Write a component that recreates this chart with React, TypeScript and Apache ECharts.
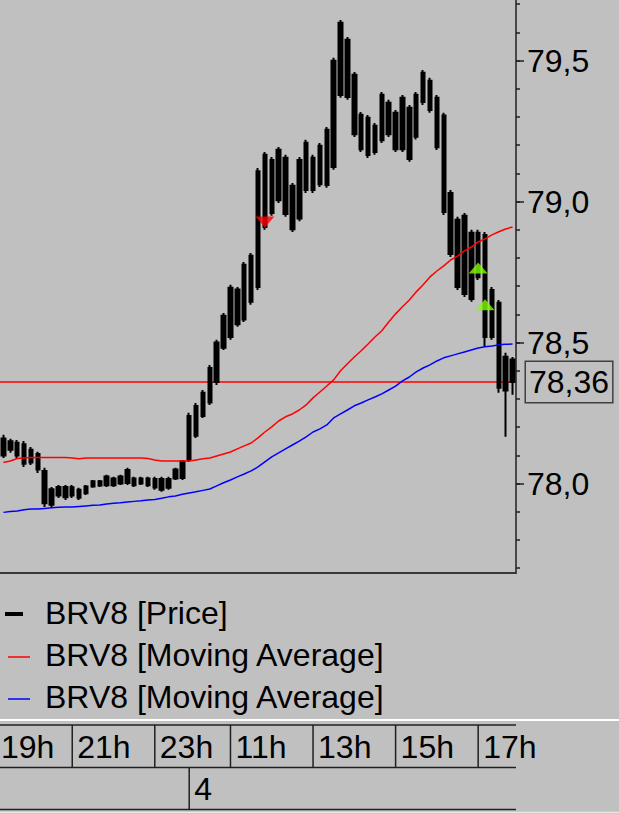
import React, { useEffect, useRef } from "react";
import * as echarts from "echarts";

const FONT = "'Liberation Sans', Arial, sans-serif";

// 10-minute bars, day 3 evening then day 4
const times = [
  "19:20", "19:30", "19:40", "19:50",
  "20:00", "20:10", "20:20", "20:30", "20:40", "20:50",
  "21:00", "21:10", "21:20", "21:30", "21:40", "21:50",
  "22:00", "22:10", "22:20", "22:30", "22:40", "22:50",
  "23:00", "23:10", "23:20", "23:30", "23:40",
  "10:00", "10:10", "10:20", "10:30", "10:40", "10:50",
  "11:00", "11:10", "11:20", "11:30", "11:40", "11:50",
  "12:00", "12:10", "12:20", "12:30", "12:40", "12:50",
  "13:00", "13:10", "13:20", "13:30", "13:40", "13:50",
  "14:00", "14:10", "14:20", "14:30", "14:40", "14:50",
  "15:00", "15:10", "15:20", "15:30", "15:40", "15:50",
  "16:00", "16:10", "16:20", "16:30", "16:40", "16:50",
  "17:00", "17:10", "17:20", "17:30", "17:40", "17:50",
];

const opens = [
  78.1, 78.15, 78.1, 78.14, 78.075, 78.105, 78.045, 77.98, 77.958, 77.988,
  77.958, 77.978, 77.966, 77.99, 78.008, 77.994, 78.018, 78.0, 78.002, 78.018,
  78.0, 78.018, 77.986, 78.016, 77.985, 78.018, 78.02, 78.085, 78.17, 78.24,
  78.288, 78.36, 78.482, 78.52, 78.688, 78.582, 78.808, 78.697, 79.166, 78.96,
  79.184, 78.956, 79.056, 78.94, 79.209, 79.041, 79.198, 79.059, 79.123, 79.378,
  79.574, 79.45, 79.308, 79.165, 79.269, 79.218, 79.351, 79.315, 79.186, 79.333,
  79.23, 79.353, 79.429, 79.368, 79.305, 79.031, 78.936, 78.672, 78.89, 78.732,
  78.882, 78.52, 78.641, 78.33, 78.44,
];
const closes = [
  78.16, 78.12, 78.145, 78.07, 78.12, 78.05, 77.93, 77.925, 77.988, 77.952,
  77.987, 77.95, 77.99, 78.008, 77.993, 78.025, 77.994, 78.025, 78.048, 77.994,
  78.018, 77.994, 78.016, 77.978, 78.016, 78.05, 78.078, 78.24, 78.275, 78.322,
  78.41, 78.5, 78.595, 78.695, 78.565, 78.776, 78.645, 79.108, 78.91, 79.148,
  79.005, 79.156, 78.902, 79.148, 79.041, 79.156, 79.062, 79.255, 79.5, 79.634,
  79.371, 79.239, 79.186, 79.297, 79.176, 79.379, 79.239, 79.186, 79.368, 79.151,
  79.379, 79.457, 79.325, 79.193, 78.963, 78.814, 78.697, 78.95, 78.655, 78.89,
  78.52, 78.687, 78.34, 78.45, 78.36,
];
const lows = [
  78.091, 78.109, 78.091, 78.059, 78.066, 78.038, 77.917, 77.917, 77.949, 77.942,
  77.949, 77.942, 77.96, 77.985, 77.988, 77.988, 77.988, 77.995, 77.995, 77.988,
  77.995, 77.988, 77.978, 77.971, 77.978, 78.013, 78.013, 78.077, 78.162, 78.233,
  78.279, 78.35, 78.474, 78.51, 78.556, 78.573, 78.634, 78.687, 78.9, 78.95,
  78.995, 78.946, 78.892, 78.93, 79.031, 79.031, 79.052, 79.049, 79.113, 79.368,
  79.361, 79.229, 79.176, 79.155, 79.166, 79.208, 79.229, 79.176, 79.176, 79.141,
  79.22, 79.343, 79.315, 79.183, 78.953, 78.804, 78.687, 78.662, 78.645, 78.722,
  78.485, 78.51, 78.322, 78.166, 78.315,
];
const highs = [
  78.173, 78.159, 78.155, 78.151, 78.13, 78.113, 78.056, 77.988, 77.995, 77.995,
  77.995, 77.985, 77.995, 78.013, 78.013, 78.031, 78.024, 78.031, 78.056, 78.024,
  78.024, 78.024, 78.024, 78.024, 78.024, 78.056, 78.084, 78.251, 78.286, 78.332,
  78.421, 78.51, 78.605, 78.705, 78.697, 78.786, 78.818, 79.119, 79.176, 79.158,
  79.194, 79.166, 79.066, 79.158, 79.219, 79.166, 79.208, 79.265, 79.51, 79.644,
  79.584, 79.46, 79.318, 79.307, 79.279, 79.389, 79.361, 79.325, 79.378, 79.343,
  79.389, 79.467, 79.439, 79.378, 79.315, 79.041, 78.946, 78.96, 78.9, 78.9,
  78.892, 78.697, 78.651, 78.464, 78.449,
];

const maFast = [
  78.075, 78.08, 78.089, 78.091, 78.093, 78.093, 78.093, 78.093, 78.093, 78.093,
  78.091, 78.088, 78.091, 78.091, 78.091, 78.091, 78.091, 78.091, 78.091, 78.091,
  78.091, 78.089, 78.084, 78.08, 78.08, 78.08, 78.08, 78.08, 78.084, 78.088,
  78.091, 78.098, 78.105, 78.112, 78.123, 78.134, 78.144, 78.162, 78.183, 78.201,
  78.222, 78.237, 78.247, 78.261, 78.279, 78.304, 78.325, 78.346, 78.368, 78.4,
  78.425, 78.449, 78.471, 78.495, 78.52, 78.542, 78.573, 78.602, 78.627, 78.651,
  78.68, 78.705, 78.733, 78.754, 78.772, 78.793, 78.807, 78.825, 78.839, 78.857,
  78.868, 78.882, 78.893, 78.903, 78.91,
];
const maSlow = [
  77.898, 77.901, 77.903, 77.907, 77.91, 77.91, 77.912, 77.914, 77.916, 77.917,
  77.917, 77.919, 77.921, 77.923, 77.924, 77.928, 77.93, 77.932, 77.935, 77.937,
  77.939, 77.942, 77.944, 77.948, 77.953, 77.956, 77.962, 77.967, 77.971, 77.976,
  77.981, 77.992, 78.003, 78.013, 78.024, 78.034, 78.045, 78.059, 78.077, 78.095,
  78.109, 78.123, 78.137, 78.151, 78.166, 78.183, 78.194, 78.208, 78.233, 78.247,
  78.261, 78.276, 78.286, 78.297, 78.307, 78.318, 78.332, 78.346, 78.364, 78.378,
  78.396, 78.41, 78.421, 78.435, 78.446, 78.453, 78.46, 78.467, 78.474, 78.481,
  78.485, 78.488, 78.492, 78.494, 78.495,
];

const sellSignals = [[38, 78.928]];
const buySignals = [[69, 78.765], [70, 78.634]];

const majorTicks = [78.0, 78.5, 79.0, 79.5];
const minorTicks = [
  77.7, 77.8, 77.9, 78.0, 78.1, 78.2, 78.3, 78.4, 78.5, 78.6, 78.7,
  78.8, 78.9, 79.0, 79.1, 79.2, 79.3, 79.4, 79.5, 79.6, 79.7,
];
const yMin = 77.683;
const yMax = 79.715;

const legendLabels = ["BRV8 [Price]", "BRV8 [Moving Average]", "BRV8 [Moving Average]"];
const legendColors = ["#000000", "#ff0000", "#0000ff"];

const leadingHourLabel = "19h";
const leadingHourIndex = -2;
const dayLabels = ["4"];

const fmt = (v: number, d: number) => v.toFixed(d).replace(".", ",");

export default function App() {
  const ref = useRef<HTMLDivElement>(null);

  useEffect(() => {
    if (!ref.current) return;
    const chart = echarts.init(ref.current, null, { renderer: "svg" });
    const candles = opens.map((o, i) => [o, closes[i], lows[i], highs[i]]);
    const lastClose = closes[closes.length - 1];
    const axisColor = "#202020";

    chart.setOption({
      animation: false,
      backgroundColor: "#c0c0c0",
      grid: { left: 0, top: 0, width: 516, height: 573, containLabel: false },
      xAxis: {
        type: "category",
        data: times,
        boundaryGap: true,
        axisLine: { show: true, lineStyle: { color: "#383838", width: 2 } },
        axisTick: { show: false },
        axisLabel: { show: false },
        splitLine: { show: false },
      },
      yAxis: [
        {
          type: "value",
          position: "right",
          min: yMin,
          max: yMax,
          axisLine: { show: true, lineStyle: { color: axisColor, width: 1.5 } },
          axisTick: {
            show: true,
            length: 8,
            customValues: majorTicks,
            lineStyle: { color: axisColor, width: 1.5 },
          },
          axisLabel: {
            show: true,
            customValues: majorTicks,
            margin: 11,
            color: "#000",
            fontSize: 32,
            fontFamily: FONT,
            formatter: (v: number) => fmt(v, 1),
          },
          splitLine: { show: false },
        },
        {
          type: "value",
          position: "right",
          min: yMin,
          max: yMax,
          axisLine: { show: false },
          axisTick: {
            show: true,
            length: 4,
            customValues: minorTicks,
            lineStyle: { color: axisColor, width: 1.5 },
          },
          axisLabel: { show: false },
          splitLine: { show: false },
        },
      ],
      series: [
        {
          type: "line",
          name: "last",
          data: [],
          z: 1,
          markLine: {
            silent: true,
            z: 1,
            symbol: ["none", "none"],
            data: [{ yAxis: lastClose }],
            lineStyle: { color: "#ff0000", width: 1.5, type: "solid" },
            label: {
              show: true,
              position: "end",
              distance: 10,
              formatter: fmt(lastClose, 2),
              color: "#000",
              fontSize: 32,
              fontFamily: FONT,
              lineHeight: 34,
              borderColor: "#404040",
              borderWidth: 1.5,
              padding: [4, 3, 2, 3],
              backgroundColor: "#c0c0c0",
            },
          },
        },
        {
          type: "candlestick",
          name: "BRV8 [Price]",
          data: candles,
          barWidth: 4,
          z: 2,
          itemStyle: {
            color: "#000",
            color0: "#000",
            borderColor: "#000",
            borderColor0: "#000",
            borderWidth: 2,
          },
        },
        {
          type: "line",
          name: "BRV8 [Moving Average] fast",
          data: maFast,
          symbol: "none",
          z: 3,
          lineStyle: { color: "#ff0000", width: 1.5 },
        },
        {
          type: "line",
          name: "BRV8 [Moving Average] slow",
          data: maSlow,
          symbol: "none",
          z: 3,
          lineStyle: { color: "#0000ff", width: 1.5 },
        },
        {
          type: "scatter",
          name: "sell",
          data: sellSignals,
          symbol: "triangle",
          symbolRotate: 180,
          symbolSize: [19, 11],
          z: 4,
          itemStyle: { color: "#ff0000" },
        },
        {
          type: "scatter",
          name: "buy",
          data: buySignals,
          symbol: "triangle",
          symbolSize: [19, 11],
          z: 4,
          itemStyle: { color: "#80ff00" },
        },
      ],
    });

    // time scale below the legend, positioned from the category axis
    const p0 = chart.convertToPixel({ xAxisIndex: 0 }, 0) as number;
    const p1 = chart.convertToPixel({ xAxisIndex: 0 }, 1) as number;
    const px = (i: number) => p0 + (p1 - p0) * i;

    const hourMarks: { label: string; index: number }[] = [
      { label: leadingHourLabel, index: leadingHourIndex },
    ];
    const dayMarks: { label: string; index: number }[] = [];
    times.forEach((t, i) => {
      const [h, m] = t.split(":").map(Number);
      if (m === 0 && h % 2 === 1) hourMarks.push({ label: h + "h", index: i });
      if (i > 0 && t < times[i - 1]) dayMarks.push({ label: dayLabels[dayMarks.length], index: i });
    });

    const row1Top = 725;
    const row1Bot = 767.5;
    const row2Bot = 809.5;
    const rightEdge = 516;
    const lineStyle = { stroke: "#202020", lineWidth: 1.5 };
    const graphics: any[] = [];

    graphics.push({
      type: "line",
      shape: { x1: 0, y1: 720, x2: 619, y2: 720 },
      style: { stroke: "#ffffff", lineWidth: 2 },
    });
    graphics.push({
      type: "line",
      shape: { x1: 0, y1: 812.5, x2: 619, y2: 812.5 },
      style: { stroke: "#e8e8e8", lineWidth: 1.5 },
    });
    [row1Top, row1Bot, row2Bot].forEach((y) =>
      graphics.push({ type: "line", shape: { x1: 0, y1: y, x2: rightEdge, y2: y }, style: lineStyle })
    );
    hourMarks.forEach((hm) => {
      const x = px(hm.index);
      graphics.push({ type: "line", shape: { x1: x, y1: row1Top, x2: x, y2: row1Bot }, style: lineStyle });
      graphics.push({
        type: "text",
        x: Math.max(x + 5, 1),
        y: 747,
        style: {
          text: hm.label,
          fill: "#000",
          font: "32px " + FONT,
          textVerticalAlign: "middle",
          verticalAlign: "middle",
        },
      });
    });
    dayMarks.forEach((dm) => {
      const x = px(dm.index);
      graphics.push({ type: "line", shape: { x1: x, y1: row1Bot, x2: x, y2: row2Bot }, style: lineStyle });
      graphics.push({
        type: "text",
        x: x + 5,
        y: 789,
        style: {
          text: dm.label,
          fill: "#000",
          font: "32px " + FONT,
          textVerticalAlign: "middle",
          verticalAlign: "middle",
        },
      });
    });

    const legendY = [613, 655, 697];
    legendLabels.forEach((lab, i) => {
      const y = legendY[i];
      graphics.push({
        type: "line",
        shape: i === 0 ? { x1: 5, y1: y + 1, x2: 23, y2: y + 1 } : { x1: 8, y1: y + 2, x2: 30, y2: y + 2 },
        style: { stroke: legendColors[i], lineWidth: i === 0 ? 4 : 1.5 },
      });
      graphics.push({
        type: "text",
        x: 45,
        y,
        style: {
          text: lab,
          fill: "#000",
          font: "32px " + FONT,
          textVerticalAlign: "middle",
          verticalAlign: "middle",
        },
      });
    });

    chart.setOption({ graphic: graphics });

    return () => chart.dispose();
  }, []);

  return (
    <div
      ref={ref}
      style={{ position: "absolute", left: 0, top: 0, width: 619, height: 814, background: "#c0c0c0" }}
    />
  );
}
